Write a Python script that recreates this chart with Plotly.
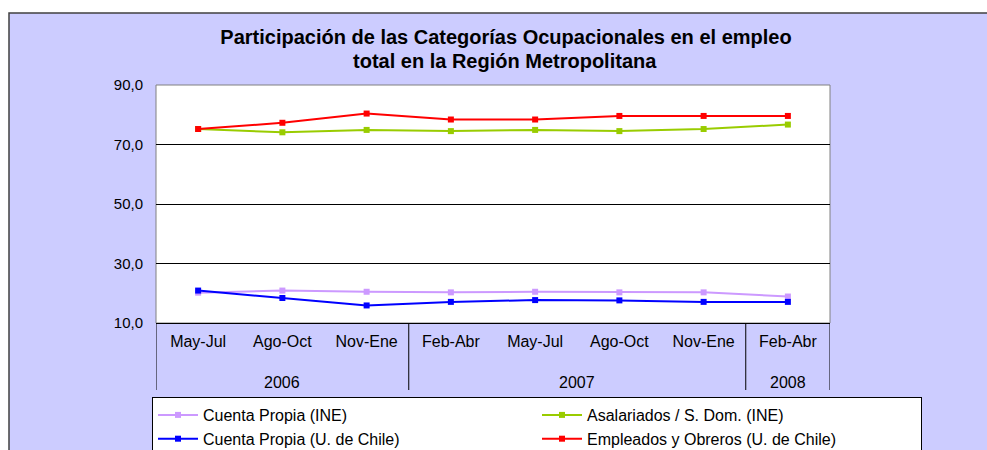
import plotly.graph_objects as go

# ---- data ----
periodos = ["May-Jul", "Ago-Oct", "Nov-Ene", "Feb-Abr", "May-Jul", "Ago-Oct", "Nov-Ene", "Feb-Abr"]
anios = ["2006", "2006", "2006", "2007", "2007", "2007", "2007", "2008"]
cuenta_propia_ine = [20.2, 20.9, 20.5, 20.3, 20.5, 20.3, 20.3, 18.9]
asalariados_ine = [75.2, 74.1, 74.9, 74.5, 74.9, 74.5, 75.2, 76.7]
cuenta_propia_uch = [20.9, 18.4, 15.9, 17.1, 17.7, 17.6, 17.1, 17.1]
empleados_uch = [75.2, 77.3, 80.4, 78.4, 78.4, 79.6, 79.6, 79.6]
y_tick_vals = [10, 30, 50, 70, 90]
y_tick_text = ["10,0", "30,0", "50,0", "70,0", "90,0"]
titulo_1 = "Participación de las Categorías Ocupacionales en el empleo"
titulo_2 = "total en la Región Metropolitana"

series = [
    ("Cuenta Propia (INE)", cuenta_propia_ine, "#CC99FF"),
    ("Asalariados / S. Dom. (INE)", asalariados_ine, "#99CC00"),
    ("Cuenta Propia (U. de Chile)", cuenta_propia_uch, "#0000FF"),
    ("Empleados y Obreros (U. de Chile)", empleados_uch, "#FF0000"),
]

W, H = 987, 450
L, R, T, B = 156, 830, 85, 323  # plot area in pixels
FONT = "Liberation Sans, Arial, sans-serif"


def px_x(p):
    return (p - L) / (R - L)


def px_y(p):
    return (B - p) / (B - T)


x_idx = list(range(len(periodos)))

fig = go.Figure()
for name, vals, color in series:
    fig.add_trace(go.Scatter(
        x=x_idx, y=vals, name=name, mode="lines+markers",
        line=dict(color=color, width=2),
        marker=dict(symbol="square", size=6, color=color),
        cliponaxis=False,
    ))

shapes = [
    # chart-area background
    dict(type="rect", xref="paper", yref="paper", layer="below",
         x0=px_x(9), x1=px_x(995), y0=px_y(460), y1=px_y(13),
         fillcolor="#CCCCFF", line=dict(color="#404040", width=1.5)),
    # plot-area background
    dict(type="rect", xref="paper", yref="paper", layer="below",
         x0=0, x1=1, y0=0, y1=1,
         fillcolor="white", line=dict(color="#808080", width=1)),
]

# year groups: dividers and labels
groups = []
start = 0
for i in range(1, len(anios) + 1):
    if i == len(anios) or anios[i] != anios[start]:
        groups.append((anios[start], start, i - 1))
        start = i

annotations = [dict(
    x=px_x(505), y=px_y(61), xref="paper", yref="paper",
    text="<b>" + titulo_2 + "</b>", showarrow=False,
    xanchor="center", yanchor="middle",
    font=dict(family=FONT, size=20, color="black"))]

bounds = set()
for yr, a, b in groups:
    bounds.add(a - 0.5)
    bounds.add(b + 0.5)
    annotations.append(dict(
        x=(a + b) / 2, y=px_y(382), xref="x", yref="paper",
        text=yr, showarrow=False, xanchor="center", yanchor="middle",
        font=dict(family=FONT, size=16, color="black")))
for bx in sorted(bounds):
    shapes.append(dict(type="line", xref="x", yref="paper",
                       x0=bx, x1=bx, y0=0, y1=px_y(390),
                       line=dict(color="black", width=1)))

fig.update_layout(
    width=W, height=H,
    margin=dict(l=L, r=W - R, t=T, b=H - B, autoexpand=False),
    paper_bgcolor="white",
    plot_bgcolor="white",
    font=dict(family=FONT, size=15, color="black"),
    title=dict(
        text=titulo_1,
        x=506 / W, xanchor="center", xref="container",
        y=1 - 37 / H, yanchor="middle", yref="container",
        font=dict(family=FONT, size=20, color="black", weight="bold"),
    ),
    xaxis=dict(
        range=[-0.5, len(periodos) - 0.5],
        tickvals=x_idx, ticktext=periodos,
        showgrid=False, zeroline=False,
        showline=True, linecolor="black", linewidth=1,
        ticks="", ticklabelstandoff=4,
        tickfont=dict(family=FONT, size=16, color="black"),
    ),
    yaxis=dict(
        range=[10, 90], tickvals=y_tick_vals, ticktext=y_tick_text,
        showgrid=True, gridcolor="black", gridwidth=1,
        zeroline=False, showline=False, ticks="",
        ticklabelstandoff=12,
        tickfont=dict(family=FONT, size=15, color="black"),
    ),
    legend=dict(
        orientation="h",
        x=px_x(152), xanchor="left",
        y=px_y(397), yanchor="top",
        bgcolor="white", bordercolor="black", borderwidth=1,
        entrywidth=329, entrywidthmode="pixels",
        itemwidth=40,
        font=dict(family=FONT, size=16, color="black"),
        traceorder="normal",
    ),
    shapes=shapes,
    annotations=annotations,
    showlegend=True,
)

fig.write_html("out.html", config={"displayModeBar": False},
               post_script="document.body.style.margin='0';")
